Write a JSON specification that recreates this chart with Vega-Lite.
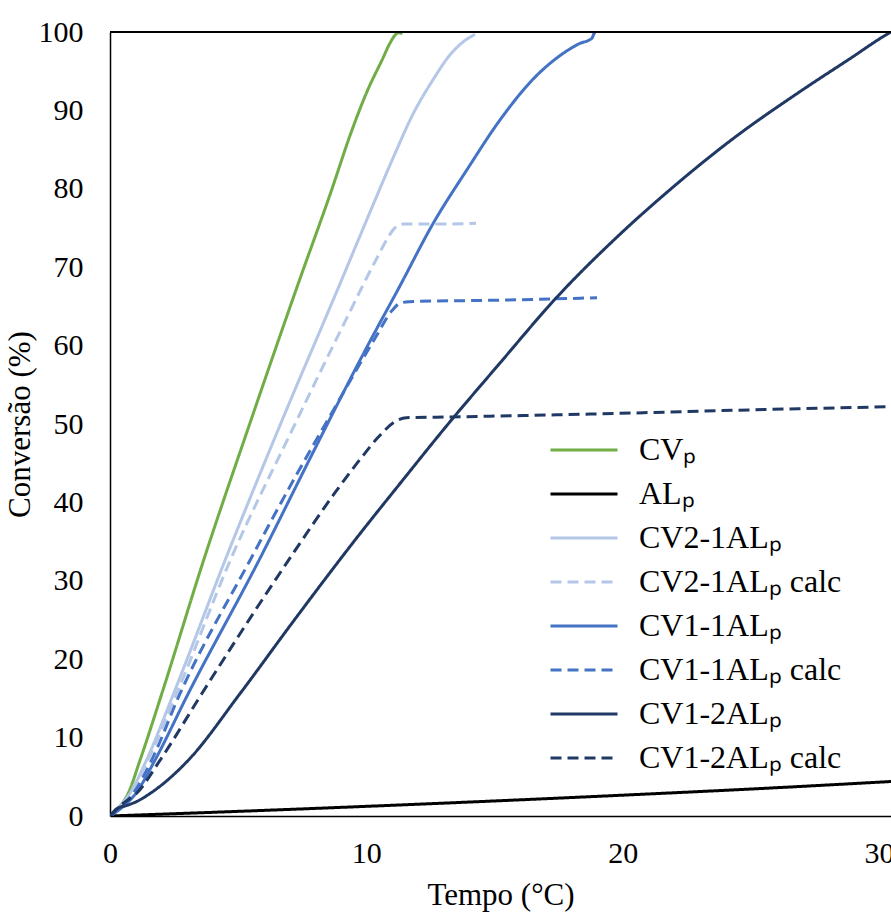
{
  "$schema": "https://vega.github.io/schema/vega-lite/v6.json",
  "width": 781,
  "height": 784,
  "autosize": {"type": "none"},
  "padding": {"left": 110, "top": 32, "right": 0, "bottom": 97},
  "background": "white",
  "config": {
    "view": {"stroke": null},
    "font": "Liberation Serif",
    "axis": {
      "labelFont": "Liberation Serif",
      "titleFont": "Liberation Serif",
      "labelFontSize": 30,
      "titleFontSize": 31,
      "labelColor": "#000000",
      "titleColor": "#000000",
      "titleFontWeight": "normal",
      "domainColor": "#000000",
      "domainWidth": 1.5,
      "ticks": false,
      "tickSize": 0,
      "grid": false
    },
    "legend": {
      "labelFont": "Liberation Serif",
      "labelFontSize": 32,
      "labelColor": "#000000"
    }
  },
  "data": {
    "values": [
      {"s": "CVₚ", "t": 0, "c": 0},
      {"s": "CVₚ", "t": 0.3, "c": 0.9},
      {"s": "CVₚ", "t": 0.71, "c": 2.9},
      {"s": "CVₚ", "t": 1.17, "c": 7.1},
      {"s": "CVₚ", "t": 2.03, "c": 15.7},
      {"s": "CVₚ", "t": 3.65, "c": 32.6},
      {"s": "CVₚ", "t": 5.48, "c": 50.3},
      {"s": "CVₚ", "t": 7.3, "c": 67.5},
      {"s": "CVₚ", "t": 8.62, "c": 79.6},
      {"s": "CVₚ", "t": 9.43, "c": 87.4},
      {"s": "CVₚ", "t": 10.04, "c": 92.5},
      {"s": "CVₚ", "t": 10.61, "c": 96.4},
      {"s": "CVₚ", "t": 10.96, "c": 98.8},
      {"s": "CVₚ", "t": 11.12, "c": 99.6},
      {"s": "CVₚ", "t": 11.26, "c": 99.9},
      {"s": "CVₚ", "t": 11.41, "c": 99.8},

      {"s": "ALₚ", "t": 0, "c": 0},
      {"s": "ALₚ", "t": 5.07, "c": 0.6},
      {"s": "ALₚ", "t": 10.14, "c": 1.25},
      {"s": "ALₚ", "t": 15.22, "c": 1.95},
      {"s": "ALₚ", "t": 20.29, "c": 2.7},
      {"s": "ALₚ", "t": 25.36, "c": 3.5},
      {"s": "ALₚ", "t": 30.47, "c": 4.4},

      {"s": "CV2-1ALₚ", "t": 0, "c": 0},
      {"s": "CV2-1ALₚ", "t": 0.41, "c": 1.3},
      {"s": "CV2-1ALₚ", "t": 0.78, "c": 2.9},
      {"s": "CV2-1ALₚ", "t": 1.42, "c": 7.1},
      {"s": "CV2-1ALₚ", "t": 2.48, "c": 15.6},
      {"s": "CV2-1ALₚ", "t": 4.56, "c": 33.2},
      {"s": "CV2-1ALₚ", "t": 6.59, "c": 49.5},
      {"s": "CV2-1ALₚ", "t": 9.04, "c": 68.4},
      {"s": "CV2-1ALₚ", "t": 10.14, "c": 77.0},
      {"s": "CV2-1ALₚ", "t": 11.16, "c": 84.8},
      {"s": "CV2-1ALₚ", "t": 11.77, "c": 89.2},
      {"s": "CV2-1ALₚ", "t": 12.6, "c": 93.9},
      {"s": "CV2-1ALₚ", "t": 13.27, "c": 97.1},
      {"s": "CV2-1ALₚ", "t": 13.8, "c": 98.8},
      {"s": "CV2-1ALₚ", "t": 14.24, "c": 99.7},

      {"s": "CV2-1ALₚ calc", "t": 0, "c": 0},
      {"s": "CV2-1ALₚ calc", "t": 0.41, "c": 1.3},
      {"s": "CV2-1ALₚ calc", "t": 0.81, "c": 2.9},
      {"s": "CV2-1ALₚ calc", "t": 1.47, "c": 7.1},
      {"s": "CV2-1ALₚ calc", "t": 2.6, "c": 15.6},
      {"s": "CV2-1ALₚ calc", "t": 4.69, "c": 32.6},
      {"s": "CV2-1ALₚ calc", "t": 7.1, "c": 49.2},
      {"s": "CV2-1ALₚ calc", "t": 9.13, "c": 62.8},
      {"s": "CV2-1ALₚ calc", "t": 10.45, "c": 71.4},
      {"s": "CV2-1ALₚ calc", "t": 10.85, "c": 73.8},
      {"s": "CV2-1ALₚ calc", "t": 11.11, "c": 75.0},
      {"s": "CV2-1ALₚ calc", "t": 11.46, "c": 75.5},
      {"s": "CV2-1ALₚ calc", "t": 12.68, "c": 75.5},
      {"s": "CV2-1ALₚ calc", "t": 14.28, "c": 75.6},

      {"s": "CV1-1ALₚ", "t": 0, "c": 0},
      {"s": "CV1-1ALₚ", "t": 0.51, "c": 1.2},
      {"s": "CV1-1ALₚ", "t": 1.01, "c": 2.9},
      {"s": "CV1-1ALₚ", "t": 1.75, "c": 7.1},
      {"s": "CV1-1ALₚ", "t": 3.05, "c": 15.6},
      {"s": "CV1-1ALₚ", "t": 5.81, "c": 32.6},
      {"s": "CV1-1ALₚ", "t": 7.91, "c": 46.3},
      {"s": "CV1-1ALₚ", "t": 10.02, "c": 59.8},
      {"s": "CV1-1ALₚ", "t": 11.31, "c": 67.6},
      {"s": "CV1-1ALₚ", "t": 12.61, "c": 75.6},
      {"s": "CV1-1ALₚ", "t": 13.92, "c": 82.4},
      {"s": "CV1-1ALₚ", "t": 15.22, "c": 88.8},
      {"s": "CV1-1ALₚ", "t": 16.51, "c": 94.0},
      {"s": "CV1-1ALₚ", "t": 17.56, "c": 97.0},
      {"s": "CV1-1ALₚ", "t": 18.3, "c": 98.5},
      {"s": "CV1-1ALₚ", "t": 18.8, "c": 99.2},
      {"s": "CV1-1ALₚ", "t": 18.87, "c": 99.7},
      {"s": "CV1-1ALₚ", "t": 18.92, "c": 100.0},

      {"s": "CV1-1ALₚ calc", "t": 0, "c": 0},
      {"s": "CV1-1ALₚ calc", "t": 0.46, "c": 1.3},
      {"s": "CV1-1ALₚ calc", "t": 0.91, "c": 2.9},
      {"s": "CV1-1ALₚ calc", "t": 1.62, "c": 7.1},
      {"s": "CV1-1ALₚ calc", "t": 2.73, "c": 15.6},
      {"s": "CV1-1ALₚ calc", "t": 5.46, "c": 32.6},
      {"s": "CV1-1ALₚ calc", "t": 7.1, "c": 42.5},
      {"s": "CV1-1ALₚ calc", "t": 8.72, "c": 51.8},
      {"s": "CV1-1ALₚ calc", "t": 10.35, "c": 61.0},
      {"s": "CV1-1ALₚ calc", "t": 11.01, "c": 64.5},
      {"s": "CV1-1ALₚ calc", "t": 11.31, "c": 65.4},
      {"s": "CV1-1ALₚ calc", "t": 11.67, "c": 65.6},
      {"s": "CV1-1ALₚ calc", "t": 15.22, "c": 65.8},
      {"s": "CV1-1ALₚ calc", "t": 19.0, "c": 66.1},

      {"s": "CV1-2ALₚ", "t": 0, "c": 0},
      {"s": "CV1-2ALₚ", "t": 0.3, "c": 1.0},
      {"s": "CV1-2ALₚ", "t": 0.61, "c": 1.3},
      {"s": "CV1-2ALₚ", "t": 1.01, "c": 1.8},
      {"s": "CV1-2ALₚ", "t": 1.62, "c": 3.0},
      {"s": "CV1-2ALₚ", "t": 3.05, "c": 7.1},
      {"s": "CV1-2ALₚ", "t": 5.07, "c": 15.6},
      {"s": "CV1-2ALₚ", "t": 7.1, "c": 24.6},
      {"s": "CV1-2ALₚ", "t": 9.56, "c": 35.2},
      {"s": "CV1-2ALₚ", "t": 11.51, "c": 43.2},
      {"s": "CV1-2ALₚ", "t": 12.99, "c": 49.2},
      {"s": "CV1-2ALₚ", "t": 15.22, "c": 57.8},
      {"s": "CV1-2ALₚ", "t": 17.44, "c": 66.2},
      {"s": "CV1-2ALₚ", "t": 19.7, "c": 73.6},
      {"s": "CV1-2ALₚ", "t": 21.96, "c": 80.2},
      {"s": "CV1-2ALₚ", "t": 24.31, "c": 86.4},
      {"s": "CV1-2ALₚ", "t": 26.92, "c": 92.4},
      {"s": "CV1-2ALₚ", "t": 28.87, "c": 96.6},
      {"s": "CV1-2ALₚ", "t": 30.31, "c": 99.7},
      {"s": "CV1-2ALₚ", "t": 30.47, "c": 100.0},

      {"s": "CV1-2ALₚ calc", "t": 0, "c": 0},
      {"s": "CV1-2ALₚ calc", "t": 0.51, "c": 1.6},
      {"s": "CV1-2ALₚ calc", "t": 1.04, "c": 2.9},
      {"s": "CV1-2ALₚ calc", "t": 1.95, "c": 7.1},
      {"s": "CV1-2ALₚ calc", "t": 3.58, "c": 15.6},
      {"s": "CV1-2ALₚ calc", "t": 5.58, "c": 25.8},
      {"s": "CV1-2ALₚ calc", "t": 6.96, "c": 32.6},
      {"s": "CV1-2ALₚ calc", "t": 8.77, "c": 41.2},
      {"s": "CV1-2ALₚ calc", "t": 9.83, "c": 45.8},
      {"s": "CV1-2ALₚ calc", "t": 10.46, "c": 48.3},
      {"s": "CV1-2ALₚ calc", "t": 11.12, "c": 50.3},
      {"s": "CV1-2ALₚ calc", "t": 11.56, "c": 50.8},
      {"s": "CV1-2ALₚ calc", "t": 13.29, "c": 50.9},
      {"s": "CV1-2ALₚ calc", "t": 19.12, "c": 51.3},
      {"s": "CV1-2ALₚ calc", "t": 24.95, "c": 51.8},
      {"s": "CV1-2ALₚ calc", "t": 30.47, "c": 52.2}
    ]
  },
  "layer": [
    {
      "mark": {"type": "line", "strokeWidth": 3, "interpolate": "monotone", "clip": true},
      "encoding": {
        "x": {
          "field": "t", "type": "quantitative",
          "scale": {"domain": [0, 30.47], "nice": false},
          "axis": {"values": [0, 10, 20, 30], "title": "Tempo (°C)", "labelFont": "Liberation Serif", "titleFont": "Liberation Serif", "labelPadding": 22, "titlePadding": 12, "labelFlush": false}
        },
        "y": {
          "field": "c", "type": "quantitative",
          "scale": {"domain": [0, 100], "nice": false},
          "axis": {"values": [0, 10, 20, 30, 40, 50, 60, 70, 80, 90, 100], "title": "Conversão (%)", "labelFont": "Liberation Serif", "titleFont": "Liberation Serif", "labelPadding": 27, "titlePadding": 2}
        },
        "color": {
          "field": "s", "type": "nominal",
          "scale": {
            "domain": ["CVₚ", "ALₚ", "CV2-1ALₚ", "CV2-1ALₚ calc", "CV1-1ALₚ", "CV1-1ALₚ calc", "CV1-2ALₚ", "CV1-2ALₚ calc"],
            "range": ["#70AD47", "#000000", "#B4C7E7", "#B4C7E7", "#4472C4", "#4472C4", "#203864", "#203864"]
          },
          "legend": {
            "title": null,
            "orient": "none",
            "legendX": 439,
            "legendY": 402,
            "padding": 0,
            "clipHeight": 32,
            "rowPadding": 12,
            "symbolSize": 4489,
            "symbolStrokeWidth": 3,
            "symbolType": "stroke",
            "labelOffset": 20,
            "labelLimit": 400,
            "labelFont": "Liberation Serif",
            "labelFontSize": 32
          }
        },
        "strokeDash": {
          "field": "s", "type": "nominal",
          "scale": {
            "domain": ["CVₚ", "ALₚ", "CV2-1ALₚ", "CV2-1ALₚ calc", "CV1-1ALₚ", "CV1-1ALₚ calc", "CV1-2ALₚ", "CV1-2ALₚ calc"],
            "range": [[1, 0], [1, 0], [1, 0], [11, 6], [1, 0], [11, 6], [1, 0], [11, 6]]
          },
          "legend": {
            "title": null,
            "orient": "none",
            "legendX": 439,
            "legendY": 402,
            "padding": 0,
            "clipHeight": 32,
            "rowPadding": 12,
            "symbolSize": 4489,
            "symbolStrokeWidth": 3,
            "symbolType": "stroke",
            "labelOffset": 20,
            "labelLimit": 400,
            "labelFont": "Liberation Serif",
            "labelFontSize": 32
          }
        }
      }
    },
    {
      "mark": {"type": "rule", "color": "#000000", "strokeWidth": 1.5},
      "encoding": {"y": {"datum": 100}}
    }
  ]
}
